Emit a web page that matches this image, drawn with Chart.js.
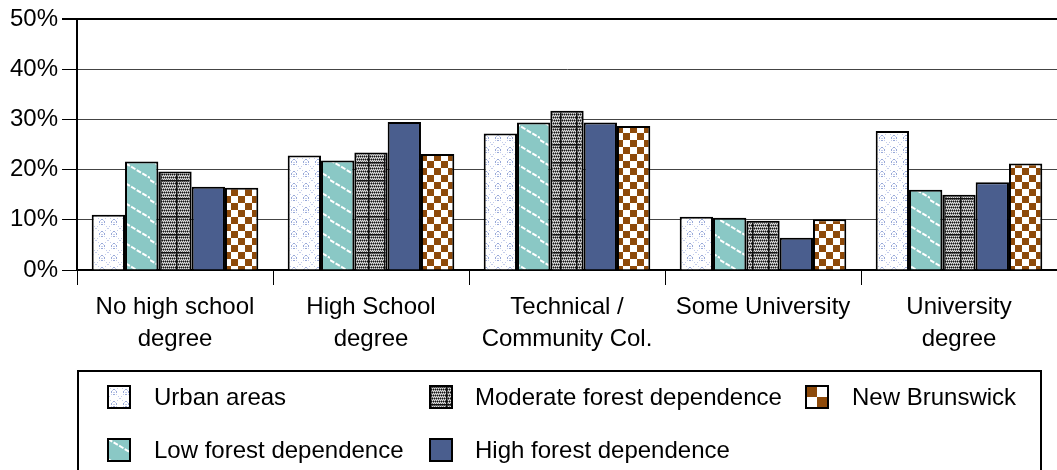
<!DOCTYPE html>
<html>
<head>
<meta charset="utf-8">
<script src="https://cdn.jsdelivr.net/npm/chart.js@4/dist/chart.umd.min.js"></script>
<style>
  html, body { margin: 0; padding: 0; background: #fff; }
  #wrap { width: 1057px; height: 470px; position: relative; }
</style>
</head>
<body>
<div id="wrap"><canvas id="c"></canvas></div>
<script>
const categories = [
  ['No high school', 'degree'],
  ['High School', 'degree'],
  ['Technical /', 'Community Col.'],
  'Some University',
  ['University', 'degree']
];
const urbanAreas = [11.0, 22.8, 27.2, 10.6, 27.7];
const lowForest = [21.6, 21.8, 29.4, 10.4, 16.0];
const moderateForest = [19.6, 23.4, 31.7, 9.8, 15.0];
const highForest = [16.6, 29.5, 29.4, 6.4, 17.5];
const newBrunswick = [16.4, 23.1, 28.7, 10.1, 21.2];
const yTicks = [0, 10, 20, 30, 40, 50];

const FONT = 'Liberation Sans, Arial, sans-serif';
const FSIZE = 24;

function makePattern(w, h, paint) {
  const c = document.createElement('canvas');
  c.width = w; c.height = h;
  const g = c.getContext('2d');
  paint(g, w, h);
  return document.getElementById('c').getContext('2d').createPattern(c, 'repeat');
}

// urban: white with a dotted diagonal lattice and small light blue diamonds
const urbanPat = makePattern(12, 12, (g, w, h) => {
  g.fillStyle = '#fff'; g.fillRect(0, 0, w, h);
  g.fillStyle = '#c4cdeb';
  for (let i = 0; i < 12; i += 2) { g.fillRect(i, i, 1, 1); g.fillRect(11 - i, i, 1, 1); }
  g.fillStyle = '#98a9d8';
  g.fillRect(5, 3, 2, 1); g.fillRect(3, 5, 1, 2); g.fillRect(8, 5, 1, 2); g.fillRect(5, 8, 2, 1);
});
// low: teal with white diagonal stripes
const lowPat = makePattern(30, 20, (g, w, h) => {
  g.fillStyle = '#8ac8c5'; g.fillRect(0, 0, w, h);
  g.strokeStyle = '#ffffff'; g.lineWidth = 2;
  g.setLineDash([5, 1.5]);
  for (const dy of [-20, 0, 20]) {
    g.beginPath(); g.moveTo(0, dy); g.lineTo(w, dy + 18); g.stroke();
  }
});
// moderate: fine black/white texture with dark grid lines
const modPat = makePattern(16, 18, (g, w, h) => {
  g.fillStyle = '#777'; g.fillRect(0, 0, w, h);
  for (let x = 0; x < w; x++) for (let y = 0; y < h; y++) {
    if ((x + y) % 2 === 0) { g.fillStyle = (y % 3 === 0) ? '#111' : '#ddd'; g.fillRect(x, y, 1, 1); }
  }
  g.fillStyle = '#111';
  g.fillRect(0, 0, w, 1.5);
  g.fillRect(0, 0, 1.5, h);
});
const highColor = '#4a5e8e';
// NB: brown / white checkerboard
const nbPat = makePattern(22, 22, (g, w, h) => {
  g.fillStyle = '#ffffff'; g.fillRect(0, 0, w, h);
  g.fillStyle = '#8e4a0a';
  g.fillRect(0, 0, 11, 11); g.fillRect(11, 11, 11, 11);
});
const nbBarPat = makePattern(14, 14, (g, w, h) => {
  g.fillStyle = '#ffffff'; g.fillRect(0, 0, w, h);
  g.fillStyle = '#8e4a0a';
  g.fillRect(0, 0, 7, 7); g.fillRect(7, 7, 7, 7);
});

const series = [
  { label: 'Urban areas', data: urbanAreas, fill: urbanPat },
  { label: 'Low forest dependence', data: lowForest, fill: lowPat },
  { label: 'Moderate forest dependence', data: moderateForest, fill: modPat },
  { label: 'High forest dependence', data: highForest, fill: highColor },
  { label: 'New Brunswick', data: newBrunswick, fill: nbBarPat, swatch: nbPat }
];

// legend layout: column-major, 2 rows
const legendCols = [
  { swatchX: 108, textX: 154, items: [0, 1] },
  { swatchX: 430, textX: 475, items: [2, 3] },
  { swatchX: 806, textX: 852, items: [4] }
];
const legendRowsY = [397, 450];

const boxLegend = {
  id: 'boxLegend',
  afterDraw(chart) {
    const ctx = chart.ctx;
    ctx.save();
    ctx.strokeStyle = '#000'; ctx.lineWidth = 2;
    ctx.strokeRect(78, 371, 963, 120);
    ctx.font = FSIZE + 'px ' + FONT;
    ctx.textBaseline = 'middle';
    legendCols.forEach(col => {
      col.items.forEach((idx, r) => {
        const ds = chart.data.datasets[idx];
        const y = legendRowsY[r];
        ctx.save();
        ctx.translate(col.swatchX, y - 11);
        ctx.fillStyle = series[idx].swatch || ds.backgroundColor;
        ctx.fillRect(0, 0, 22, 22);
        ctx.lineWidth = 2; ctx.strokeStyle = '#000';
        ctx.strokeRect(0, 0, 22, 22);
        ctx.restore();
        ctx.fillStyle = '#000';
        ctx.fillText(ds.label, col.textX, y + 1);
      });
    });
    ctx.restore();
  }
};

new Chart(document.getElementById('c'), {
  type: 'bar',
  data: {
    labels: categories,
    datasets: series.map(s => ({
      label: s.label,
      data: s.data,
      backgroundColor: s.fill,
      borderColor: '#000',
      borderWidth: 2,
      borderSkipped: 'bottom',
      categoryPercentage: 0.85,
      barPercentage: 1.0
    }))
  },
  options: {
    responsive: true,
    maintainAspectRatio: false,
    animation: false,
    layout: { padding: { top: 19, right: 0, bottom: 100, left: 0 } },
    scales: {
      x: {
        offset: true,
        grid: {
          offset: true,
          drawOnChartArea: false,
          drawTicks: true,
          tickLength: 15,
          color: '#000',
          lineWidth: 1
        },
        border: { display: true, color: '#000', width: 2 },
        ticks: {
          color: '#000',
          padding: 6,
          maxRotation: 0,
          font: { family: FONT, size: FSIZE, lineHeight: 1.33 }
        },
        afterFit: s => { s.height = 100; }
      },
      y: {
        min: 0,
        max: 50,
        afterBuildTicks: s => { s.ticks = yTicks.map(v => ({ value: v })); },
        grid: {
          color: ctx => ctx.tick && ctx.tick.value === 50 ? '#000' : '#444',
          lineWidth: ctx => ctx.tick && ctx.tick.value === 50 ? 2 : 1,
          tickLength: 15,
          tickColor: '#000'
        },
        border: { display: true, color: '#000', width: 2 },
        ticks: {
          color: '#000',
          padding: 4,
          font: { family: FONT, size: FSIZE },
          callback: v => v + '%'
        },
        afterFit: s => { s.width = 77; }
      }
    },
    plugins: {
      legend: { display: false },
      tooltip: { enabled: false }
    }
  },
  plugins: [boxLegend]
});
</script>
</body>
</html>
